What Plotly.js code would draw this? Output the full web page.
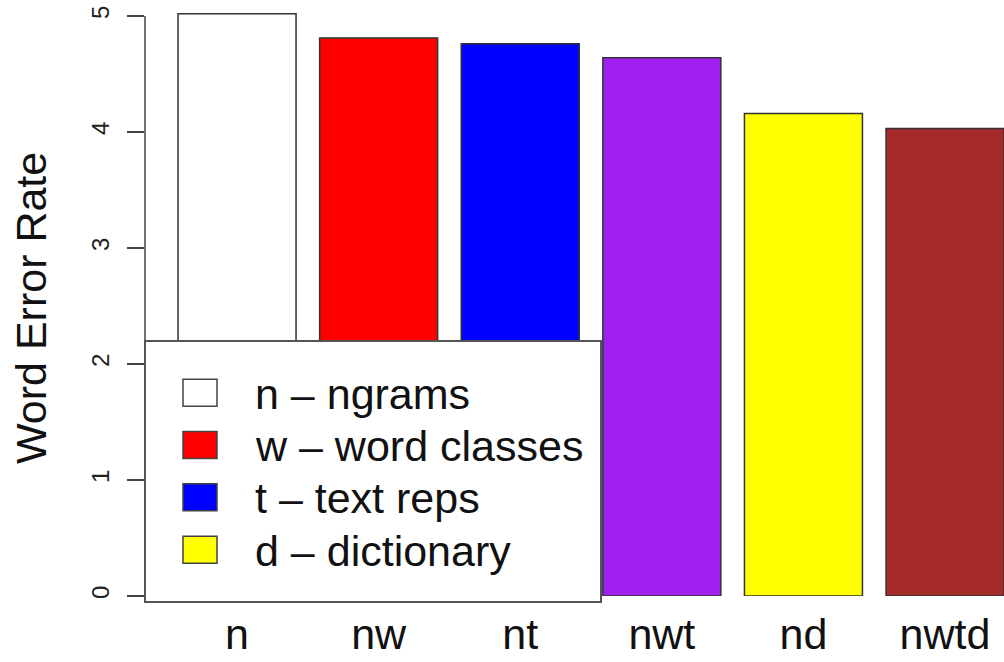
<!DOCTYPE html>
<html>
<head>
<meta charset="utf-8">
<script src="https://cdn.plot.ly/plotly-3.0.1.min.js"></script>
<style>html,body{margin:0;padding:0;background:#fff;}#chart{width:1004px;height:662px;}</style>
</head>
<body>
<div id="chart"></div>
<script>
// ---- data ----
var categories = ["n", "nw", "nt", "nwt", "nd", "nwtd"];
var werValues = [5.02, 4.81, 4.76, 4.64, 4.16, 4.03];
var barColors = ["#FFFFFF", "#FF0000", "#0000FF", "#A020F0", "#FFFF00", "#A52A2A"];
var yTicks = [0, 1, 2, 3, 4, 5];
var legendLabels = ["n \u2013 ngrams", "w \u2013 word classes", "t \u2013 text reps", "d \u2013 dictionary"];
var legendColors = ["#FFFFFF", "#FF0000", "#0000FF", "#FFFF00"];
var yTitle = "Word Error Rate";

// ---- layout geometry ----
var W = 1004, H = 662;
var mL = 145, mR = 0, mT = 0, mB = 66;
var plotW = W - mL - mR, plotH = H - mT - mB;
function px2x(px) { return (px - mL) / plotW; }
function py2y(py) { return (H - mB - py) / plotH; }

var FONT = "Liberation Sans, Arial, sans-serif";

var trace = {
  type: "bar",
  x: categories,
  y: werValues,
  marker: { color: barColors, line: { color: "#333333", width: 1.5 } },
  hoverinfo: "x+y",
  showlegend: false
};

var shapes = [];
var annotations = [];
// y axis line from 0 to 5 (as in R)
shapes.push({
  type: "line", xref: "paper", yref: "y",
  x0: 0, x1: 0, y0: yTicks[0], y1: yTicks[yTicks.length - 1],
  line: { color: "#444", width: 1.5 }
});
// y axis title
annotations.push({
  xref: "paper", yref: "paper", x: px2x(31), y: py2y(308),
  xanchor: "center", yanchor: "middle", showarrow: false, textangle: -90,
  text: yTitle,
  font: { family: FONT, size: 43, color: "#111" }
});
// legend box
shapes.push({
  type: "rect", xref: "paper", yref: "paper", layer: "above",
  x0: px2x(145), x1: px2x(601), y0: py2y(602), y1: py2y(341),
  fillcolor: "#FFFFFF", line: { color: "#555", width: 2 }
});
var rowCenters = [392.7, 445, 497.3, 549.7];
for (var i = 0; i < legendLabels.length; i++) {
  var cy = rowCenters[i];
  shapes.push({
    type: "rect", xref: "paper", yref: "paper", layer: "above",
    x0: px2x(183), x1: px2x(217), y0: py2y(cy + 13.5), y1: py2y(cy - 13.5),
    fillcolor: legendColors[i], line: { color: "#444", width: 1.5 }
  });
  annotations.push({
    xref: "paper", yref: "paper", x: px2x(253), y: py2y(cy + 1),
    xanchor: "left", yanchor: "middle", showarrow: false,
    text: legendLabels[i],
    font: { family: FONT, size: 43, color: "#111" }
  });
}

var layout = {
  width: W, height: H,
  margin: { l: mL, r: mR, t: mT, b: mB, pad: 0 },
  paper_bgcolor: "#FFFFFF", plot_bgcolor: "#FFFFFF",
  bargap: 1 / 6,
  showlegend: false,
  xaxis: {
    type: "category",
    range: [-0.65, -0.65 + plotW / 141.6],
    showgrid: false, zeroline: false, showline: false, ticks: "",
    tickfont: { family: FONT, size: 43, color: "#111" },
    ticklabelstandoff: 9,
    automargin: false,
    fixedrange: true
  },
  yaxis: {
    range: [0, plotH / 116],
    tickvals: yTicks,
    ticktext: yTicks.map(String),
    ticks: "outside", ticklen: 17, tickwidth: 1.5, tickcolor: "#444",
    tickangle: -90,
    showgrid: false, zeroline: false, showline: false,
    tickfont: { family: FONT, size: 24, color: "#222" },
    ticklabelstandoff: 8,
    automargin: false,
    fixedrange: true
  },
  shapes: shapes,
  annotations: annotations
};

Plotly.newPlot("chart", [trace], layout, { displayModeBar: false, staticPlot: true });
</script>
</body>
</html>
